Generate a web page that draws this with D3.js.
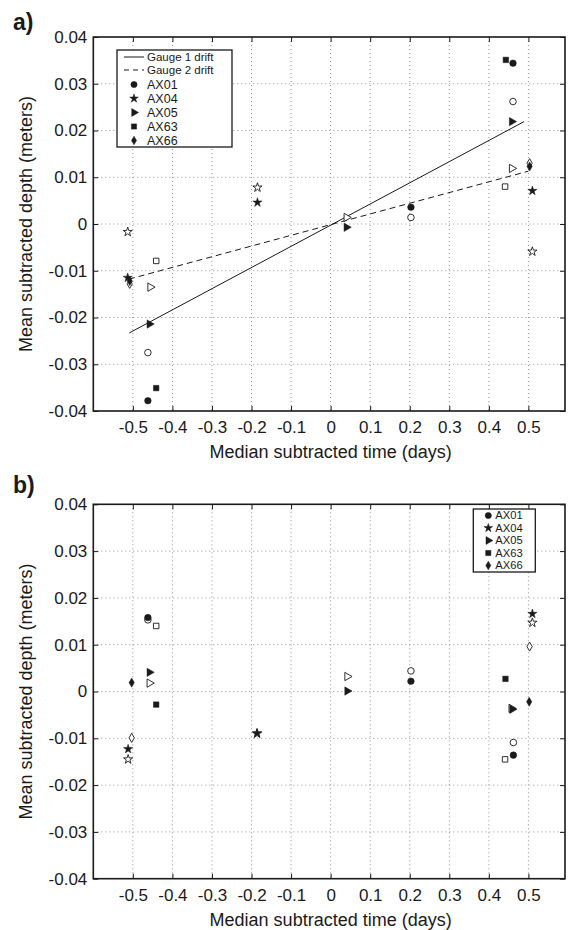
<!DOCTYPE html>
<html>
<head>
<meta charset="utf-8">
<script src="https://cdn.jsdelivr.net/npm/d3@7"></script>
<style>
  body { margin: 0; background: #fff; }
  svg { display: block; font-family: "Liberation Sans", Arial, sans-serif; }
</style>
</head>
<body>
<div id="chart"></div>
<script>
// tick values for both panels
const xTicks = [-0.5, -0.4, -0.3, -0.2, -0.1, 0, 0.1, 0.2, 0.3, 0.4, 0.5];
const yTicks = [-0.04, -0.03, -0.02, -0.01, 0, 0.01, 0.02, 0.03, 0.04];
const stations = ["AX01", "AX04", "AX05", "AX63", "AX66"];

// panel a: [station, time (days), depth (m)], filled = gauge 1, open = gauge 2
const aGauge1 = [
  ["AX01", -0.462, -0.0378], ["AX01", 0.203, 0.0036], ["AX01", 0.461, 0.0344],
  ["AX04", -0.513, -0.0115], ["AX04", -0.185, 0.0046], ["AX04", 0.510, 0.0071],
  ["AX05", -0.458, -0.0214], ["AX05", 0.040, -0.0007], ["AX05", 0.458, 0.0219],
  ["AX63", -0.441, -0.0351], ["AX63", 0.443, 0.0351],
  ["AX66", -0.508, -0.0122], ["AX66", 0.503, 0.0123]
];
const aGauge2 = [
  ["AX01", -0.462, -0.0275], ["AX01", 0.203, 0.0014], ["AX01", 0.461, 0.0262],
  ["AX04", -0.513, -0.0017], ["AX04", -0.185, 0.0078], ["AX04", 0.510, -0.0059],
  ["AX05", -0.456, -0.0135], ["AX05", 0.040, 0.0014], ["AX05", 0.458, 0.0119],
  ["AX63", -0.441, -0.0079], ["AX63", 0.441, 0.0080],
  ["AX66", -0.508, -0.0128], ["AX66", 0.503, 0.0130]
];
// drift lines (end points)
const drift1 = [[-0.509, -0.0233], [0.489, 0.0219]];
const drift2 = [[-0.510, -0.0118], [0.500, 0.0113]];

// panel b
const bGauge1 = [
  ["AX01", -0.462, 0.0158], ["AX01", 0.203, 0.0022], ["AX01", 0.462, -0.0136],
  ["AX04", -0.512, -0.0123], ["AX04", -0.186, -0.0089], ["AX04", 0.510, 0.0166],
  ["AX05", -0.458, 0.0041], ["AX05", 0.042, 0.0001], ["AX05", 0.459, -0.0038],
  ["AX63", -0.441, -0.0028], ["AX63", 0.442, 0.0027],
  ["AX66", -0.503, 0.0019], ["AX66", 0.502, -0.0022]
];
const bGauge2 = [
  ["AX01", -0.462, 0.0153], ["AX01", 0.203, 0.0044], ["AX01", 0.462, -0.0109],
  ["AX04", -0.512, -0.0145], ["AX04", -0.186, -0.0090], ["AX04", 0.510, 0.0147],
  ["AX05", -0.458, 0.0018], ["AX05", 0.042, 0.0032], ["AX05", 0.457, -0.0036],
  ["AX63", -0.441, 0.0140], ["AX63", 0.441, -0.0145],
  ["AX66", -0.503, -0.0099], ["AX66", 0.503, 0.0096]
];

const W = 570, H = 930;
const ink = "#1a1a1a";

const symbolOf = {
  AX01: {type: d3.symbolCircle, size: 34, rot: 0},
  AX04: {type: d3.symbolStar, size: 26, rot: 0},
  AX05: {type: d3.symbolTriangle, size: 30, rot: 90},
  AX63: {type: d3.symbolSquare, size: 30, rot: 0},
  AX66: {type: d3.symbolDiamond, size: 24, rot: 0}
};

const svg = d3.select("#chart").append("svg")
  .attr("width", W)
  .attr("height", H);

svg.append("rect").attr("width", W).attr("height", H).attr("fill", "#fff");

function marker(g, name, px, py, filled, scale) {
  const s = symbolOf[name];
  g.append("path")
    .attr("d", d3.symbol().type(s.type).size(s.size * (scale || 1))())
    .attr("transform", "translate(" + px + "," + py + ") rotate(" + s.rot + ")")
    .attr("fill", filled ? ink : "#fff")
    .attr("stroke", ink)
    .attr("stroke-width", filled ? 0.5 : 0.9);
}

function drawPanel(opts) {
  const left = 93.3, right = 565;
  const top = opts.top, bottom = opts.bottom;

  const x = d3.scaleLinear().domain([-0.6, 0.5925]).range([left, right]);
  const y = d3.scaleLinear().domain([-0.04, 0.04]).range([bottom, top]);

  const g = svg.append("g");

  // dotted grid
  g.append("g").selectAll("line")
    .data(xTicks)
    .enter().append("line")
      .attr("x1", d => x(d)).attr("x2", d => x(d))
      .attr("y1", top).attr("y2", bottom)
      .attr("stroke", "#777").attr("stroke-width", 0.8)
      .attr("stroke-dasharray", "1,3");
  g.append("g").selectAll("line")
    .data(yTicks.slice(1, -1))
    .enter().append("line")
      .attr("x1", left).attr("x2", right)
      .attr("y1", d => y(d)).attr("y2", d => y(d))
      .attr("stroke", "#777").attr("stroke-width", 0.8)
      .attr("stroke-dasharray", "1,3");

  // axes with inward ticks
  const fmt = d => (d === 0 ? "0" : String(d));
  const axB = g.append("g")
    .attr("transform", "translate(0," + bottom + ")")
    .call(d3.axisBottom(x).tickValues(xTicks).tickFormat(fmt).tickSize(-5).tickPadding(10));
  const axT = g.append("g")
    .attr("transform", "translate(0," + top + ")")
    .call(d3.axisTop(x).tickValues(xTicks).tickFormat("").tickSize(-5));
  const axL = g.append("g")
    .attr("transform", "translate(" + left + ",0)")
    .call(d3.axisLeft(y).tickValues(yTicks).tickFormat(fmt).tickSize(-5).tickPadding(6));
  const axR = g.append("g")
    .attr("transform", "translate(" + right + ",0)")
    .call(d3.axisRight(y).tickValues(yTicks).tickFormat("").tickSize(-5));

  [axB, axT, axL, axR].forEach(a => {
    a.select(".domain").remove();
    a.selectAll("line").attr("stroke", ink);
    a.selectAll("text")
      .attr("font-family", "Liberation Sans, Arial, sans-serif")
      .attr("font-size", 17)
      .attr("fill", ink);
  });

  g.append("rect")
    .attr("x", left).attr("y", top)
    .attr("width", right - left).attr("height", bottom - top)
    .attr("fill", "none").attr("stroke", ink).attr("stroke-width", 1.6);

  // drift lines
  if (opts.lines) {
    const line = d3.line().x(d => x(d[0])).y(d => y(d[1]));
    g.append("path").datum(drift1)
      .attr("d", line).attr("fill", "none")
      .attr("stroke", ink).attr("stroke-width", 1);
    g.append("path").datum(drift2)
      .attr("d", line).attr("fill", "none")
      .attr("stroke", ink).attr("stroke-width", 1)
      .attr("stroke-dasharray", "6,4");
  }

  // markers: open first, filled on top
  opts.open.forEach(d => marker(g, d[0], x(d[1]), y(d[2]), false));
  opts.filled.forEach(d => marker(g, d[0], x(d[1]), y(d[2]), true));

  // axis titles
  g.append("text")
    .attr("x", x(0)).attr("y", bottom + 47)
    .attr("text-anchor", "middle")
    .attr("font-size", 18).attr("fill", ink)
    .text("Median subtracted time (days)");
  g.append("text")
    .attr("transform", "translate(32," + ((top + bottom) / 2) + ") rotate(-90)")
    .attr("text-anchor", "middle")
    .attr("font-size", 18).attr("fill", ink)
    .text("Mean subtracted depth (meters)");

  // panel letter
  g.append("text")
    .attr("x", 13).attr("y", opts.letterY)
    .attr("font-size", 23).attr("font-weight", "bold").attr("fill", ink)
    .text(opts.letter);

  // legend
  const lg = g.append("g");
  const L = opts.legend;
  lg.append("rect")
    .attr("x", L.x).attr("y", L.y).attr("width", L.w).attr("height", L.h)
    .attr("fill", "#fff").attr("stroke", ink).attr("stroke-width", 1.3);
  let rowY = L.y + L.first;
  if (opts.lines) {
    ["Gauge 1 drift", "Gauge 2 drift"].forEach((label, i) => {
      lg.append("line")
        .attr("x1", L.x + 7).attr("x2", L.x + 27)
        .attr("y1", rowY).attr("y2", rowY)
        .attr("stroke", ink).attr("stroke-width", 1)
        .attr("stroke-dasharray", i === 1 ? "5,4" : null);
      lg.append("text")
        .attr("x", L.x + L.textDx).attr("y", rowY).attr("dy", "0.35em")
        .attr("font-size", 11.5).attr("fill", ink)
        .text(label);
      rowY += 13;
    });
    rowY += 1.5;
  }
  stations.forEach(name => {
    marker(lg, name, L.x + L.markDx, rowY, true, 0.9);
    lg.append("text")
      .attr("x", L.x + L.textDx).attr("y", rowY).attr("dy", "0.35em")
      .attr("font-size", L.font).attr("fill", ink)
      .text(name);
    rowY += L.step;
  });
}

drawPanel({
  top: 37, bottom: 411, letter: "a)", letterY: 30, lines: true,
  filled: aGauge1, open: aGauge2,
  legend: {x: 117, y: 50, w: 115, h: 97, first: 7, step: 14, markDx: 17, textDx: 30, font: 12.5}
});

drawPanel({
  top: 504.3, bottom: 878.7, letter: "b)", letterY: 493, lines: false,
  filled: bGauge1, open: bGauge2,
  legend: {x: 473.3, y: 509, w: 62, h: 63, first: 6.5, step: 12.5, markDx: 15, textDx: 22, font: 11.2}
});
</script>
</body>
</html>
